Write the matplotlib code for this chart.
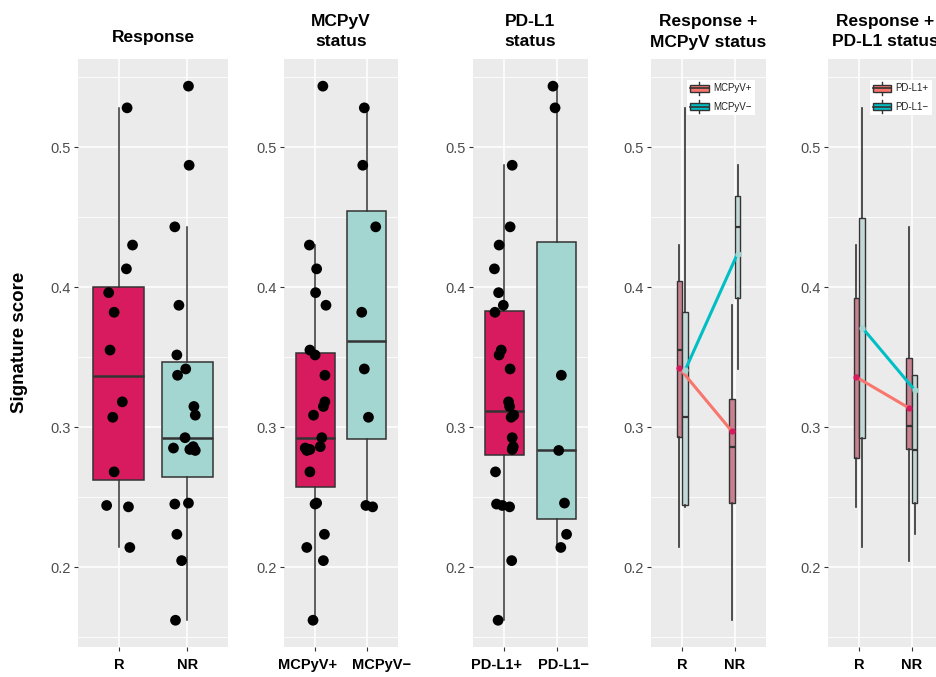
import numpy as np
import matplotlib
matplotlib.use("Agg")
import matplotlib.pyplot as plt
from matplotlib.patches import Rectangle
from matplotlib.lines import Line2D
from matplotlib.legend_handler import HandlerPatch
from matplotlib.transforms import ScaledTranslation

plt.rcParams['font.family'] = ['Liberation Sans', 'DejaVu Sans']

# one entry per patient
scores = [0.528, 0.430, 0.413, 0.396, 0.382, 0.355, 0.318, 0.307, 0.268, 0.244, 0.243, 0.214,
          0.5435, 0.487, 0.443, 0.387, 0.3515, 0.3415, 0.337, 0.3147, 0.3085, 0.2924, 0.285,
          0.286, 0.284, 0.2833, 0.245, 0.2457, 0.2234, 0.2046, 0.162]
response = ['R'] * 12 + ['NR'] * 19
mcpyv = ['-', '+', '+', '+', '-', '+', '+', '-', '+', '-', '-', '+',
         '+', '-', '-', '+', '+', '-', '+', '+', '+', '+', '+', '+', '+', '+', '+', '+', '+', '+', '+']
pdl1 = ['-', '+', '+', '+', '+', '+', '+', '+', '+', '+', '+', '-',
        '-', '+', '+', '+', '+', '+', '-', '+', '+', '+', '+', '+', '+', '-', '+', '-', '-', '+', '+']

# horizontal jitter of the dots
jit_resp = [0.12, 0.20, 0.11, -0.15, -0.07, -0.13, 0.05, -0.09, -0.07, -0.18, 0.14, 0.16,
            0.02, 0.03, -0.18, -0.12, -0.15, -0.02, -0.14, 0.10, 0.12, -0.03, -0.20, 0.09,
            0.04, 0.12, -0.18, 0.02, -0.15, -0.08, -0.17]
jit_mcpyv = [-0.05, -0.11, 0.03, 0.01, -0.10, -0.10, 0.19, 0.03, -0.10, -0.02, 0.11, -0.16,
             0.15, -0.08, 0.17, 0.21, 0.0, -0.05, 0.19, 0.16, -0.03, 0.13, -0.19, 0.10,
             -0.10, -0.16, 0.0, 0.03, 0.18, 0.16, -0.04]
jit_pdl1 = [-0.03, -0.10, -0.19, -0.11, -0.18, -0.06, 0.08, 0.13, -0.17, -0.04, 0.10, 0.08,
            -0.07, 0.15, 0.11, -0.02, -0.10, 0.11, 0.09, 0.10, 0.18, 0.15, 0.16, 0.17,
            0.15, 0.04, -0.15, 0.15, 0.19, 0.14, -0.12]

resp_levels = ['R', 'NR']
yticks = [0.2, 0.3, 0.4, 0.5]
ytick_labels = ['0.2', '0.3', '0.4', '0.5']

CRIMSON = '#D81B5E'
LTEAL = '#A3D5D1'
EDGE = '#333333'
SALMON = '#F8766D'
TEAL = '#00BFC4'
PINK_BOX = '#C8828F'
GREY_BOX = '#C3D8D7'

scores = np.array(scores)
W, H = 936, 677
fig = plt.figure(figsize=(W / 100, H / 100), dpi=100)


class BoxKey(HandlerPatch):
    def create_artists(self, legend, orig_handle, xdescent, ydescent, width, height, fontsize, trans):
        x0, y0 = -xdescent, -ydescent
        cx = x0 + width / 2
        wh = Line2D([cx, cx], [y0 - height * 0.05, y0 + height * 1.05], color=EDGE, lw=1)
        box = Rectangle((x0, y0 + height * 0.2), width, height * 0.6,
                        facecolor=orig_handle.get_facecolor(), edgecolor=EDGE, lw=1)
        med = Line2D([x0, x0 + width], [y0 + height / 2] * 2, color=EDGE, lw=1.2)
        for a in (wh, box, med):
            a.set_transform(trans)
        return [wh, box, med]


def make_ax(left_px, width_px, title, pad=9):
    ax = fig.add_axes([left_px / W, 1 - 647 / H, width_px / W, 588 / H])
    ax.set_facecolor('#EBEBEB')
    for s in ax.spines.values():
        s.set_visible(False)
    ax.set_ylim(0.1429, 0.5629)
    ax.set_xlim(0.4, 2.6)
    ax.set_yticks(yticks)
    ax.set_yticklabels(ytick_labels)
    ax.set_yticks([0.15, 0.25, 0.35, 0.45, 0.55], minor=True)
    ax.grid(which='major', color='white', lw=1.1)
    ax.grid(which='minor', axis='y', color='white', lw=0.6)
    ax.set_axisbelow(True)
    ax.tick_params(axis='y', which='major', length=3, width=0.8, color='#333333',
                   labelsize=10.5, labelcolor='#4D4D4D', pad=2)
    ax.tick_params(axis='y', which='minor', length=0)
    ax.tick_params(axis='x', length=3, width=0.8, color='#333333', labelsize=10.5,
                   labelcolor='black', pad=5)
    ax.set_title(title, fontsize=12.5, fontweight='bold', pad=pad, linespacing=1.45)
    return ax


def shift_xlabels(ax, dxs):
    # the long category names sit a little apart from their ticks
    for lab, dx in zip(ax.get_xticklabels(), dxs):
        lab.set_transform(lab.get_transform() + ScaledTranslation(dx / 100, 0, fig.dpi_scale_trans))


def simple_panel(ax, groups, levels, labels, jit):
    groups = np.array(groups)
    data = [scores[groups == lv] for lv in levels]
    bp = ax.boxplot(data, positions=[1, 2], widths=0.75, patch_artist=True, showfliers=False,
                    showcaps=False, whis=1.5,
                    boxprops=dict(edgecolor=EDGE, lw=1.1),
                    whiskerprops=dict(color=EDGE, lw=1.1),
                    medianprops=dict(color=EDGE, lw=1.8))
    for patch, c in zip(bp['boxes'], [CRIMSON, LTEAL]):
        patch.set_facecolor(c)
    xs = np.array([levels.index(g) + 1 for g in groups]) + np.array(jit)
    ax.scatter(xs, scores, s=60, color='black', zorder=5, edgecolors='none')
    ax.set_xticks([1, 2])
    ax.set_xticklabels(labels, fontweight='bold')


def combo_panel(ax, sub, legend_labels):
    sub = np.array(sub)
    resp = np.array(response)
    off = 0.055
    for k, (lv, fill, line_c, pt_c) in enumerate([('+', PINK_BOX, SALMON, CRIMSON),
                                                  ('-', GREY_BOX, TEAL, LTEAL)]):
        sgn = -1 if k == 0 else 1
        pos = [1 + sgn * off, 2 + sgn * off]
        data = [scores[(resp == r) & (sub == lv)] for r in resp_levels]
        bp = ax.boxplot(data, positions=pos, widths=0.11, patch_artist=True, showfliers=False,
                        showcaps=False, whis=1.5, manage_ticks=False,
                        boxprops=dict(edgecolor=EDGE, lw=1.0, facecolor=fill),
                        whiskerprops=dict(color=EDGE, lw=1.2),
                        medianprops=dict(color=EDGE, lw=1.6))
        means = [d.mean() for d in data]
        ax.plot(pos, means, color=line_c, lw=2.2, zorder=6, solid_capstyle='butt')
        ax.plot(pos, means, 'o', color=pt_c, ms=4.5, zorder=7, mec='none')
    ax.set_xticks([1, 2])
    ax.set_xticklabels(resp_levels, fontweight='bold')
    handles = [Rectangle((0, 0), 1, 1, facecolor=SALMON), Rectangle((0, 0), 1, 1, facecolor=TEAL)]
    leg = ax.legend(handles, legend_labels, loc='upper right', bbox_to_anchor=(0.9, 0.965),
                    fontsize=7, handlelength=1.9, handleheight=1.45, labelspacing=0.7,
                    borderpad=0.3, handletextpad=0.45, borderaxespad=0, frameon=True,
                    fancybox=False, framealpha=1,
                    handler_map={Rectangle: BoxKey()})
    leg.get_frame().set_facecolor('white')
    leg.get_frame().set_edgecolor('none')
    for t in leg.get_texts():
        t.set_color('#222222')


ax1 = make_ax(78, 150, 'Response', pad=12)
simple_panel(ax1, response, resp_levels, ['R', 'NR'], jit_resp)

ax2 = make_ax(284, 114, 'MCPyV\nstatus')
simple_panel(ax2, mcpyv, ['+', '-'], ['MCPyV+', 'MCPyV\u2212'], jit_mcpyv)
shift_xlabels(ax2, [-8, 15])

ax3 = make_ax(473, 115, 'PD-L1\nstatus')
simple_panel(ax3, pdl1, ['+', '-'], ['PD-L1+', 'PD-L1\u2212'], jit_pdl1)
shift_xlabels(ax3, [-8, 7])

ax4 = make_ax(651, 115, 'Response +\nMCPyV status')
combo_panel(ax4, mcpyv, ['MCPyV+', 'MCPyV\u2212'])

ax5 = make_ax(828, 115, 'Response +\nPD-L1 status')
combo_panel(ax5, pdl1, ['PD-L1+', 'PD-L1\u2212'])

fig.text(20 / W, 1 - 342 / H, 'Signature score', rotation=90, fontsize=13.5,
         fontweight='bold', ha='center', va='center')

fig.savefig('out.png', dpi=100)
